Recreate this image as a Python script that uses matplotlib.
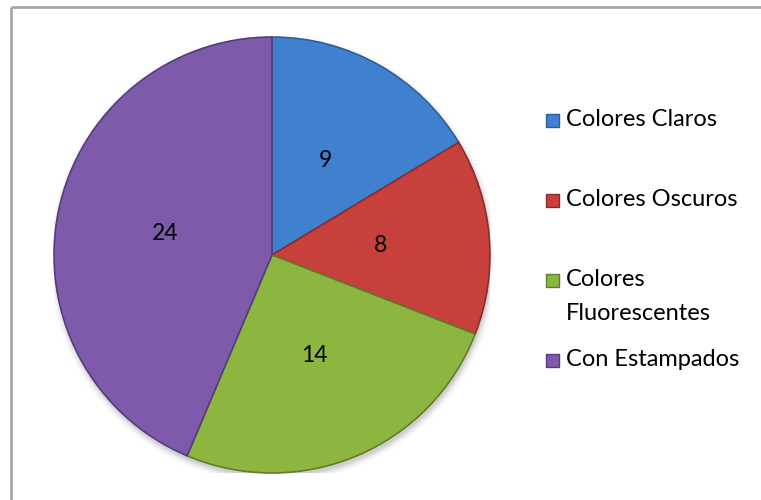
import matplotlib
matplotlib.use("Agg")
import matplotlib.pyplot as plt
from matplotlib.patches import Rectangle, Circle
import numpy as np

# Chart data
categories = ["Colores Claros", "Colores Oscuros", "Colores\nFluorescentes", "Con Estampados"]
values = [9, 8, 14, 24]
colors = ["#3F80CF", "#C8403C", "#8DB640", "#7D5BAA"]
edge_colors = ["#2C5F9E", "#8E2B28", "#5F7F27", "#563C7C"]

W, H = 761, 500
fig = plt.figure(figsize=(W / 100, H / 100), dpi=100)
fig.patch.set_facecolor("white")
font = ["Lato", "DejaVu Sans"]

# Chart-area frame (top and left edges)
frame = fig.add_axes([0, 0, 1, 1])
frame.set_xlim(0, W)
frame.set_ylim(H, 0)
frame.axis("off")
frame.plot([11, 11], [7, H], color="#A6A6A6", lw=2, solid_capstyle="butt")
frame.plot([11, W], [7, 7], color="#A6A6A6", lw=2, solid_capstyle="butt")

# Pie axes: center (272, 255) px, radius 218 px
cx, cy, r = 272, 255, 218
ax = fig.add_axes([(cx - r) / W, (H - cy - r) / H, 2 * r / W, 2 * r / H])
ax.set_xlim(-1, 1)
ax.set_ylim(-1, 1)
ax.set_aspect("equal")
ax.axis("off")

# soft drop shadow
for k, a in enumerate(np.linspace(0.05, 0.012, 6)):
    ax.add_patch(Circle((0.006, -0.018), 1.0 + 0.006 * k, color="black",
                        alpha=a, lw=0, zorder=0))

wedges, _ = ax.pie(values, colors=colors, startangle=90, counterclock=False,
                   radius=1.0, wedgeprops=dict(linewidth=1.2),
                   frame=False)
for w, ec in zip(wedges, edge_colors):
    w.set_edgecolor(ec)
    w.set_zorder(2)
ax.set_xlim(-1, 1)
ax.set_ylim(-1, 1)

# value labels at mid-angle
for w, v in zip(wedges, values):
    mid = np.deg2rad((w.theta1 + w.theta2) / 2)
    ax.text(0.5 * np.cos(mid), 0.5 * np.sin(mid), str(v), ha="center",
            va="center", fontsize=16.5, family=font, color="black", zorder=5)

# Legend
rows_y = [120, 200, 280, 360]
line_gap = 33
for lab, col, ec, y in zip(categories, colors, edge_colors, rows_y):
    frame.add_patch(Rectangle((546, y - 6.5), 13, 13, facecolor=col,
                              edgecolor=ec, lw=1))
    for i, line in enumerate(lab.split("\n")):
        frame.text(566, y + i * line_gap, line, ha="left", va="center",
                   fontsize=17, family=font, color="black")

fig.savefig("out.png", dpi=100, facecolor="white")
